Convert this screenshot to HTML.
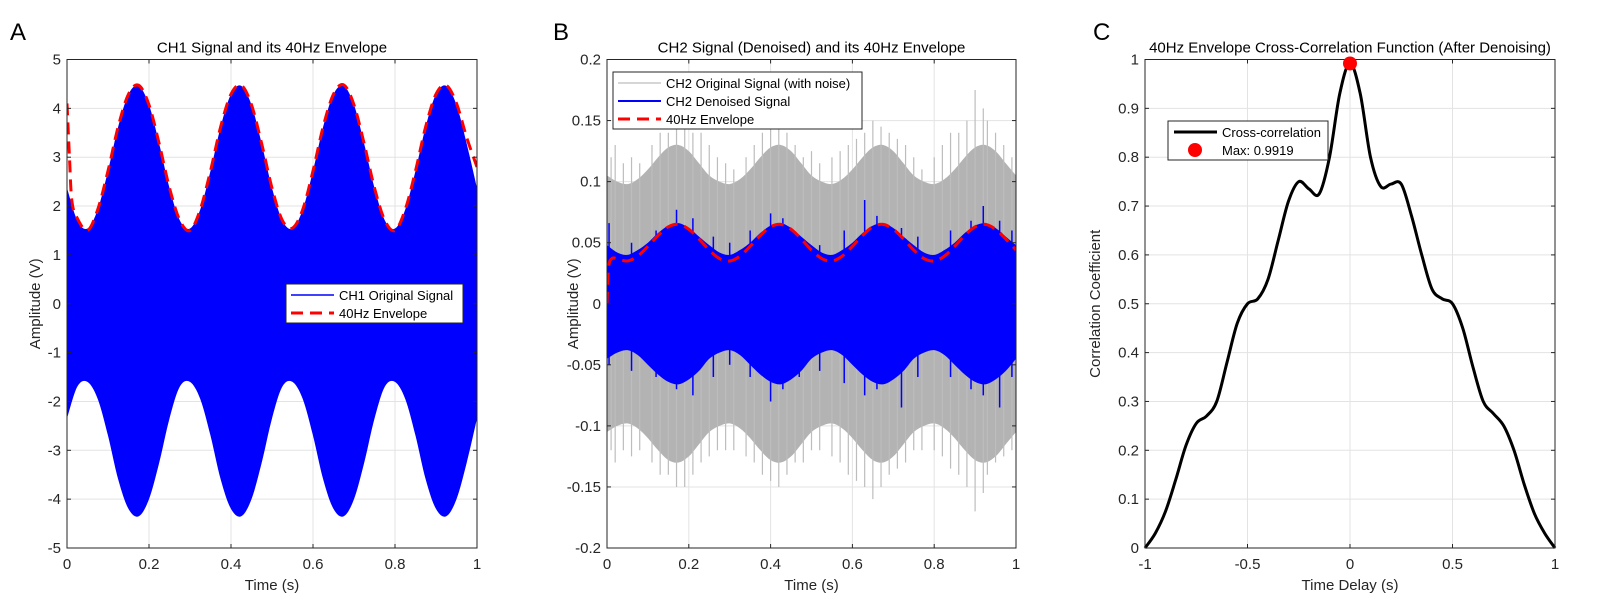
<!DOCTYPE html>
<html><head><meta charset="utf-8">
<style>
html,body{margin:0;padding:0;background:#fff;}
svg{display:block;font-family:"Liberation Sans",Arial,sans-serif;}
</style></head>
<body>
<svg id="fig" width="1597" height="610" viewBox="0 0 1597 610"></svg>
<script>
// ---------- data ----------
const tA = [0,0.025,0.05,0.075,0.1,0.125,0.15,0.175,0.2,0.225,0.25,0.275,0.3,0.325,0.35,0.375,0.4,0.425,0.45,0.475,0.5,0.525,0.55,0.575,0.6,0.625,0.65,0.675,0.7,0.725,0.75,0.775,0.8,0.825,0.85,0.875,0.9,0.925,0.95,0.975,1];
const ch1Upper = [2.37,1.71,1.54,1.93,2.72,3.63,4.29,4.46,4.07,3.27,2.37,1.71,1.54,1.93,2.72,3.63,4.29,4.46,4.07,3.27,2.37,1.71,1.54,1.93,2.72,3.63,4.29,4.46,4.07,3.27,2.37,1.71,1.54,1.93,2.72,3.63,4.29,4.46,4.07,3.27,2.37];
const ch1Lower = [-2.35,-1.7,-1.6,-1.95,-2.7,-3.6,-4.2,-4.35,-4.0,-3.25,-2.35,-1.7,-1.6,-1.95,-2.7,-3.6,-4.2,-4.35,-4.0,-3.25,-2.35,-1.7,-1.6,-1.95,-2.7,-3.6,-4.2,-4.35,-4.0,-3.25,-2.35,-1.7,-1.6,-1.95,-2.7,-3.6,-4.2,-4.35,-4.0,-3.25,-2.35];
const ch1EnvT = [0,0.006,0.012,0.025,0.05,0.075,0.1,0.125,0.15,0.175,0.2,0.225,0.25,0.275,0.3,0.325,0.35,0.375,0.4,0.425,0.45,0.475,0.5,0.525,0.55,0.575,0.6,0.625,0.65,0.675,0.7,0.725,0.75,0.775,0.8,0.825,0.85,0.875,0.9,0.925,0.95,0.975,1];
const ch1Env = [4.1,3.0,2.1,1.75,1.5,1.93,2.72,3.63,4.29,4.47,4.07,3.27,2.37,1.71,1.5,1.93,2.72,3.63,4.29,4.47,4.07,3.27,2.37,1.71,1.55,1.93,2.72,3.63,4.29,4.48,4.07,3.27,2.37,1.71,1.5,1.93,2.72,3.63,4.29,4.47,4.1,3.4,2.8];

const ch2GrayUpper = [0.105,0.1,0.098,0.102,0.11,0.12,0.128,0.13,0.125,0.115,0.105,0.1,0.098,0.102,0.11,0.12,0.128,0.13,0.125,0.115,0.105,0.1,0.098,0.102,0.11,0.12,0.128,0.13,0.125,0.115,0.105,0.1,0.098,0.102,0.11,0.12,0.128,0.13,0.125,0.115,0.105];
const ch2GrayLower = [-0.105,-0.1,-0.098,-0.102,-0.11,-0.12,-0.128,-0.13,-0.125,-0.115,-0.105,-0.1,-0.098,-0.102,-0.11,-0.12,-0.128,-0.13,-0.125,-0.115,-0.105,-0.1,-0.098,-0.102,-0.11,-0.12,-0.128,-0.13,-0.125,-0.115,-0.105,-0.1,-0.098,-0.102,-0.11,-0.12,-0.128,-0.13,-0.125,-0.115,-0.105];
const ch2BlueUpper = [0.048,0.042,0.04,0.044,0.05,0.058,0.064,0.066,0.062,0.055,0.048,0.042,0.04,0.044,0.05,0.058,0.064,0.066,0.062,0.055,0.048,0.042,0.04,0.044,0.05,0.058,0.064,0.066,0.062,0.055,0.048,0.042,0.04,0.044,0.05,0.058,0.064,0.066,0.062,0.055,0.048];
const ch2BlueLower = [-0.045,-0.04,-0.038,-0.042,-0.05,-0.058,-0.064,-0.066,-0.062,-0.055,-0.045,-0.04,-0.038,-0.042,-0.05,-0.058,-0.064,-0.066,-0.062,-0.055,-0.045,-0.04,-0.038,-0.042,-0.05,-0.058,-0.064,-0.066,-0.062,-0.055,-0.045,-0.04,-0.038,-0.042,-0.05,-0.058,-0.064,-0.066,-0.062,-0.055,-0.045];
const ch2EnvT = [0,0.004,0.012,0.025,0.05,0.075,0.1,0.125,0.15,0.175,0.2,0.225,0.25,0.275,0.3,0.325,0.35,0.375,0.4,0.425,0.45,0.475,0.5,0.525,0.55,0.575,0.6,0.625,0.65,0.675,0.7,0.725,0.75,0.775,0.8,0.825,0.85,0.875,0.9,0.925,0.95,0.975,1];
const ch2Env = [0,0.03,0.037,0.037,0.035,0.039,0.047,0.056,0.063,0.065,0.061,0.053,0.044,0.037,0.035,0.039,0.047,0.056,0.063,0.065,0.061,0.053,0.044,0.037,0.035,0.039,0.047,0.056,0.063,0.065,0.061,0.053,0.044,0.037,0.035,0.039,0.047,0.056,0.063,0.065,0.061,0.053,0.044];
const graySpikeT = [0.01,0.02,0.04,0.06,0.08,0.11,0.13,0.15,0.17,0.19,0.21,0.23,0.25,0.27,0.29,0.31,0.34,0.36,0.38,0.4,0.42,0.44,0.46,0.48,0.5,0.52,0.55,0.57,0.59,0.61,0.63,0.65,0.67,0.69,0.71,0.73,0.75,0.77,0.8,0.82,0.84,0.86,0.88,0.9,0.92,0.93,0.95,0.97,0.99];
const graySpikeHi = [0.12,0.13,0.115,0.12,0.115,0.13,0.14,0.14,0.145,0.15,0.14,0.14,0.13,0.12,0.115,0.11,0.12,0.13,0.14,0.145,0.15,0.14,0.13,0.12,0.125,0.115,0.12,0.125,0.13,0.135,0.14,0.15,0.145,0.14,0.135,0.13,0.12,0.11,0.12,0.13,0.14,0.14,0.15,0.175,0.16,0.15,0.14,0.13,0.12];
const graySpikeLo = [-0.12,-0.13,-0.12,-0.125,-0.12,-0.13,-0.14,-0.14,-0.15,-0.15,-0.14,-0.13,-0.125,-0.12,-0.12,-0.12,-0.125,-0.13,-0.14,-0.145,-0.15,-0.14,-0.13,-0.13,-0.12,-0.12,-0.125,-0.13,-0.14,-0.145,-0.15,-0.16,-0.15,-0.14,-0.135,-0.13,-0.12,-0.12,-0.12,-0.125,-0.135,-0.14,-0.15,-0.17,-0.155,-0.14,-0.13,-0.125,-0.12];
const blueSpikeT = [0.005,0.06,0.12,0.17,0.21,0.26,0.3,0.35,0.4,0.43,0.47,0.52,0.58,0.63,0.66,0.72,0.76,0.84,0.89,0.92,0.96,0.99];
const blueSpikeHi = [0.066,0.05,0.06,0.077,0.07,0.055,0.05,0.06,0.074,0.07,0.055,0.048,0.06,0.085,0.072,0.062,0.055,0.06,0.068,0.08,0.068,0.06];
const blueSpikeLo = [-0.05,-0.055,-0.06,-0.07,-0.075,-0.06,-0.05,-0.06,-0.08,-0.07,-0.06,-0.055,-0.065,-0.075,-0.07,-0.085,-0.06,-0.06,-0.07,-0.075,-0.085,-0.06];

const lagC = [-1,-0.95,-0.9,-0.85,-0.8,-0.75,-0.7,-0.65,-0.6,-0.55,-0.5,-0.45,-0.4,-0.35,-0.3,-0.25,-0.2,-0.15,-0.1,-0.05,0,0.05,0.1,0.15,0.2,0.25,0.3,0.35,0.4,0.45,0.5,0.55,0.6,0.65,0.7,0.75,0.8,0.85,0.9,0.95,1];
const corrC = [0,0.03,0.075,0.14,0.21,0.255,0.27,0.3,0.38,0.46,0.5,0.51,0.55,0.63,0.71,0.75,0.735,0.725,0.8,0.93,0.992,0.93,0.8,0.74,0.745,0.745,0.68,0.6,0.53,0.51,0.5,0.45,0.37,0.3,0.275,0.25,0.2,0.13,0.07,0.03,0];
const maxLag = [0];
const maxVal = [0.9919];

const xTicksA = [0,0.2,0.4,0.6,0.8,1];
const yTicksA = [-5,-4,-3,-2,-1,0,1,2,3,4,5];
const yTicksB = [-0.2,-0.15,-0.1,-0.05,0,0.05,0.1,0.15,0.2];
const xTicksC = [-1,-0.5,0,0.5,1];
const yTicksC = [0,0.1,0.2,0.3,0.4,0.5,0.6,0.7,0.8,0.9,1];

// ---------- helpers ----------
const NS='http://www.w3.org/2000/svg';
const svg=document.getElementById('fig');
function el(tag,attrs,parent){const e=document.createElementNS(NS,tag);for(const k in attrs)e.setAttribute(k,attrs[k]);(parent||svg).appendChild(e);return e;}
function txt(s,attrs,parent){const e=el('text',attrs,parent);e.textContent=s;return e;}
function smooth(pts){let d='M'+pts[0][0]+','+pts[0][1];for(let i=0;i<pts.length-1;i++){const p0=pts[i-1]||pts[i],p1=pts[i],p2=pts[i+1],p3=pts[i+2]||p2;const c1=[p1[0]+(p2[0]-p0[0])/6,p1[1]+(p2[1]-p0[1])/6],c2=[p2[0]-(p3[0]-p1[0])/6,p2[1]-(p3[1]-p1[1])/6];d+=' C'+c1[0]+','+c1[1]+' '+c2[0]+','+c2[1]+' '+p2[0]+','+p2[1];}return d;}
function fmt(v){return String(+v.toFixed(3));}

function axes(o){
  const g=el('g',{});
  
  
  const X=v=>o.x0+(v-o.xmin)/(o.xmax-o.xmin)*(o.x1-o.x0);
  const Y=v=>o.y1-(v-o.ymin)/(o.ymax-o.ymin)*(o.y1-o.y0);
  const grid=el('g',{},g);
  
  
  o.xt.forEach(v=>el('line',{x1:X(v),x2:X(v),y1:o.y0,y2:o.y1,stroke:'#e3e3e3','stroke-width':1},grid));
  o.yt.forEach(v=>el('line',{x1:o.x0,x2:o.x1,y1:Y(v),y2:Y(v),stroke:'#e3e3e3','stroke-width':1},grid));
  const plot=el('g',{},g);
  const clip=el('clipPath',{id:o.name+'-clip'},g);
  el('rect',{x:o.x0,y:o.y0,width:o.x1-o.x0,height:o.y1-o.y0},clip);
  plot.setAttribute('clip-path','url(#'+o.name+'-clip)');
  return {g,plot,X,Y,o};
}
function finishAxes(A){
  const o=A.o,g=A.g,X=A.X,Y=A.Y;
  el('rect',{x:o.x0,y:o.y0,width:o.x1-o.x0,height:o.y1-o.y0,fill:'none',stroke:'#262626','stroke-width':1},g);
  o.xt.forEach(v=>{
    el('line',{x1:X(v),x2:X(v),y1:o.y1,y2:o.y1-4,stroke:'#262626'},g);
    el('line',{x1:X(v),x2:X(v),y1:o.y0,y2:o.y0+4,stroke:'#262626'},g);
    const t=txt(fmt(v),{x:X(v),y:o.y1+21,'font-size':15,'text-anchor':'middle',fill:'#262626'},g);
    
    
  });
  o.yt.forEach(v=>{
    el('line',{x1:o.x0,x2:o.x0+4,y1:Y(v),y2:Y(v),stroke:'#262626'},g);
    el('line',{x1:o.x1,x2:o.x1-4,y1:Y(v),y2:Y(v),stroke:'#262626'},g);
    const t=txt(fmt(v),{x:o.x0-6,y:Y(v)+5,'font-size':15,'text-anchor':'end',fill:'#262626'},g);
    
    
  });
  const tt=txt(o.title,{x:(o.x0+o.x1)/2,y:o.y0-7,'font-size':15,'text-anchor':'middle',fill:'#000'},g);
  
  
  const xl=txt(o.xlabel,{x:(o.x0+o.x1)/2,y:o.y1+42,'font-size':15,'text-anchor':'middle',fill:'#262626'},g);
  
  
  const yx=o.ylx, yy=(o.y0+o.y1)/2;
  const yl=txt(o.ylabel,{x:yx,y:yy,'font-size':15,'text-anchor':'middle',fill:'#262626',transform:'rotate(-90 '+yx+' '+yy+')'},g);
  
  
  const pl=txt(o.letter,{x:o.lx,y:40,'font-size':24,fill:'#000'},g);
  
  
}
function band(A,xs,up,lo,fill){
  const top=xs.map((t,i)=>[A.X(t),A.Y(up[i])]);
  const bot=xs.map((t,i)=>[A.X(t),A.Y(lo[i])]).reverse();
  const d=smooth(top)+' L'+smooth(bot).slice(1)+' Z';
  return el('path',{d,fill,stroke:'none'},A.plot);
}

// ---------- Panel A ----------
const A=axes({name:'panel-a',x0:67,x1:477,y0:59.5,y1:548,xmin:0,xmax:1,ymin:-5,ymax:5,xt:xTicksA,yt:yTicksA,title:'CH1 Signal and its 40Hz Envelope',xlabel:'Time (s)',ylabel:'Amplitude (V)',ylx:40,letter:'A',lx:10});
const fa=band(A,tA,ch1Upper,ch1Lower,'#0000ff');


const ea=el('path',{d:smooth(ch1EnvT.map((t,i)=>[A.X(t),A.Y(ch1Env[i])])),fill:'none',stroke:'#ff0000','stroke-width':3,'stroke-dasharray':'12,7'},A.plot);


finishAxes(A);
{const lg=el('g',{},A.g);


el('rect',{x:286,y:284,width:177,height:39,fill:'#fff',stroke:'#262626'},lg);
el('line',{x1:291,x2:334,y1:295,y2:295,stroke:'#0000ff','stroke-width':1.5},lg);
txt('CH1 Original Signal',{x:339,y:300,'font-size':13,fill:'#000'},lg);
el('line',{x1:291,x2:334,y1:313,y2:313,stroke:'#ff0000','stroke-width':3,'stroke-dasharray':'12,7'},lg);
txt('40Hz Envelope',{x:339,y:318,'font-size':13,fill:'#000'},lg);}

// ---------- Panel B ----------
const B=axes({name:'panel-b',x0:607,x1:1016,y0:59.5,y1:548,xmin:0,xmax:1,ymin:-0.2,ymax:0.2,xt:xTicksA,yt:yTicksB,title:'CH2 Signal (Denoised) and its 40Hz Envelope',xlabel:'Time (s)',ylabel:'Amplitude (V)',ylx:578,letter:'B',lx:553});
const gb=band(B,tA,ch2GrayUpper,ch2GrayLower,'#b3b3b3');


graySpikeT.forEach((t,i)=>{const l=el('line',{x1:B.X(t),x2:B.X(t),y1:B.Y(graySpikeHi[i]),y2:B.Y(graySpikeLo[i]),stroke:'#bdbdbd','stroke-width':1.2},B.plot);

});
const bb=band(B,tA,ch2BlueUpper,ch2BlueLower,'#0000ff');


blueSpikeT.forEach((t,i)=>{const l=el('line',{x1:B.X(t),x2:B.X(t),y1:B.Y(blueSpikeHi[i]),y2:B.Y(blueSpikeLo[i]),stroke:'#0000ff','stroke-width':1.5},B.plot);

});
const eb=el('path',{d:smooth(ch2EnvT.map((t,i)=>[B.X(t),B.Y(ch2Env[i])])),fill:'none',stroke:'#ff0000','stroke-width':3,'stroke-dasharray':'12,7'},B.plot);


finishAxes(B);
{const lg=el('g',{},B.g);


el('rect',{x:613,y:72,width:249,height:57,fill:'#fff',stroke:'#262626'},lg);
el('line',{x1:618,x2:661,y1:83,y2:83,stroke:'#c8c8c8','stroke-width':1.5},lg);
txt('CH2 Original Signal (with noise)',{x:666,y:88,'font-size':13,fill:'#000'},lg);
el('line',{x1:618,x2:661,y1:101,y2:101,stroke:'#0000ff','stroke-width':2},lg);
txt('CH2 Denoised Signal',{x:666,y:106,'font-size':13,fill:'#000'},lg);
el('line',{x1:618,x2:661,y1:119,y2:119,stroke:'#ff0000','stroke-width':3,'stroke-dasharray':'12,7'},lg);
txt('40Hz Envelope',{x:666,y:124,'font-size':13,fill:'#000'},lg);}

// ---------- Panel C ----------
const C=axes({name:'panel-c',x0:1145,x1:1555,y0:59.5,y1:548,xmin:-1,xmax:1,ymin:0,ymax:1,xt:xTicksC,yt:yTicksC,title:'40Hz Envelope Cross-Correlation Function (After Denoising)',xlabel:'Time Delay (s)',ylabel:'Correlation Coefficient',ylx:1100,letter:'C',lx:1093});
const cl=el('path',{d:smooth(lagC.map((t,i)=>[C.X(t),C.Y(corrC[i])])),fill:'none',stroke:'#000','stroke-width':3},C.g);


finishAxes(C);
maxLag.forEach((t,i)=>{const m=el('circle',{cx:C.X(t),cy:C.Y(maxVal[i]),r:7,fill:'#ff0000'},C.g);

});
{const lg=el('g',{},C.g);


el('rect',{x:1168,y:121,width:160,height:39,fill:'#fff',stroke:'#262626'},lg);
el('line',{x1:1174,x2:1217,y1:132,y2:132,stroke:'#000','stroke-width':3},lg);
txt('Cross-correlation',{x:1222,y:137,'font-size':13,fill:'#000'},lg);
el('circle',{cx:1195,cy:150,r:7,fill:'#ff0000'},lg);
txt('Max: 0.9919',{x:1222,y:155,'font-size':13,fill:'#000'},lg);}
</script>
</body></html>
